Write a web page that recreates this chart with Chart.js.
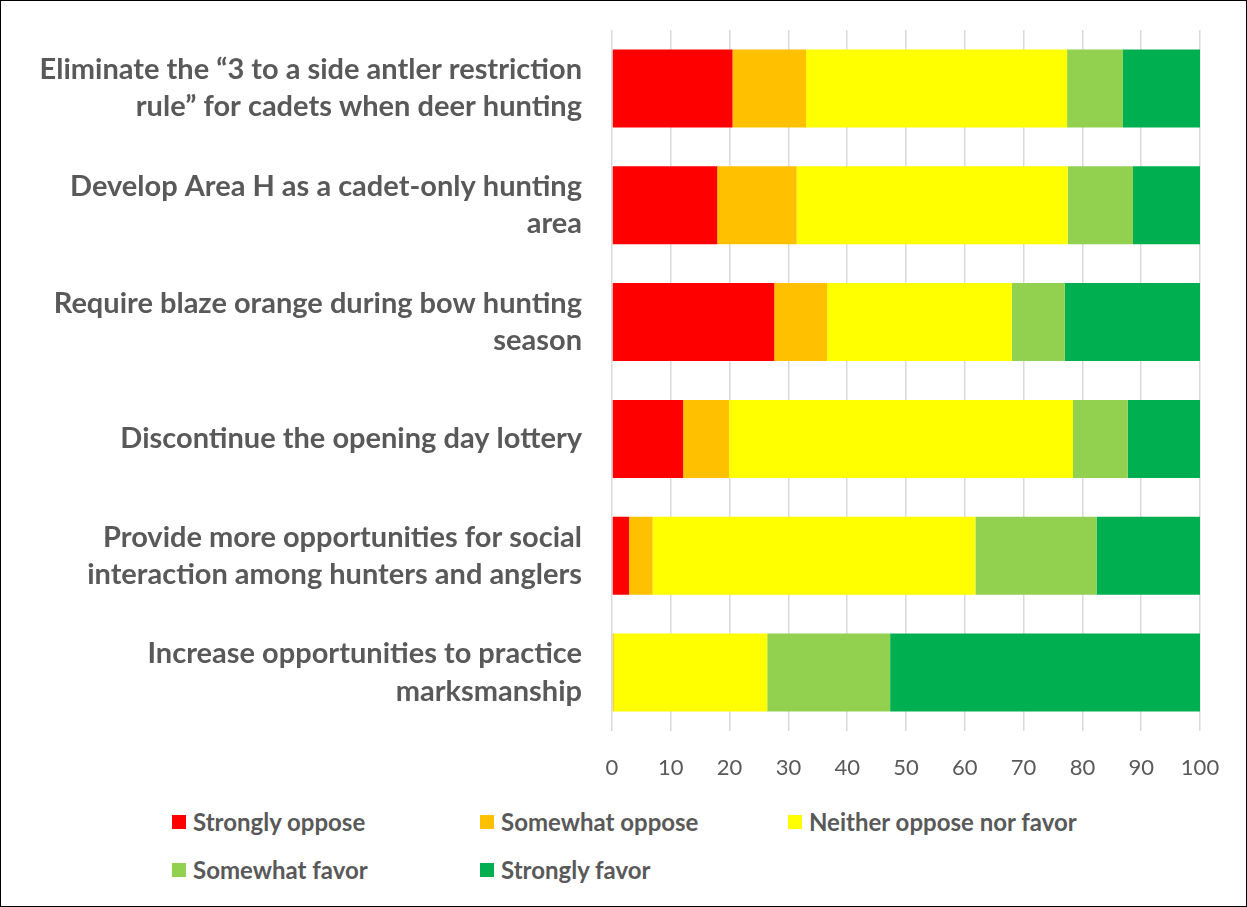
<!DOCTYPE html>
<html>
<head>
<meta charset="utf-8">
<script src="https://cdn.jsdelivr.net/npm/chart.js@4.4.0/dist/chart.umd.min.js"></script>
<style>
    html, body { margin: 0; padding: 0; background: #fff; }
    .frame {
        position: relative;
        width: 1245px;
        height: 905px;
        border: 1px solid #000;
        overflow: hidden;
    }
    .chart-box { position: absolute; left: 0; top: 0; width: 1245px; height: 800px; }
    .legend {
        position: absolute;
        left: 171px;
        top: 807px;
        display: grid;
        grid-template-columns: 308px 308px 308px;
        row-gap: 21px;
        font-family: Lato, "Liberation Sans", sans-serif;
        font-weight: bold;
        font-size: 24px;
        color: #595959;
    }
    .legend span.item { display: flex; align-items: center; height: 27px; }
    .legend i { display: inline-block; width: 14px; height: 14px; margin-right: 7px; }
</style>
</head>
<body>
<div class="frame">
    <div class="chart-box"><canvas id="chart"></canvas></div>
    <div class="legend" id="legend"></div>
</div>
<script>
const categorias = [
    ["Eliminate the \u201c3 to a side antler restriction", "rule\u201d for cadets when deer hunting"],
    ["Develop Area H as a cadet-only hunting", "area"],
    ["Require blaze orange during bow hunting", "season"],
    "Discontinue the opening day lottery",
    ["Provide more opportunities for social", "interaction among hunters and anglers"],
    ["Increase opportunities to practice", "marksmanship"]
];

const nomesSeries = ["Strongly oppose", "Somewhat oppose", "Neither oppose nor favor", "Somewhat favor", "Strongly favor"];
const coresSeries = ["#FF0000", "#FFC000", "#FFFF00", "#92D050", "#00B050"];

const stronglyOppose = [20.5, 17.9, 27.6, 12.1, 2.9, 0.0];
const somewhatOppose = [12.5, 13.5, 9.0, 7.8, 4.0, 0.3];
const neither        = [44.4, 46.1, 31.4, 58.5, 54.9, 26.1];
const somewhatFavor  = [9.5, 11.1, 9.0, 9.3, 20.6, 20.9];
const stronglyFavor  = [13.1, 11.4, 23.0, 12.3, 17.6, 52.7];

const valoresSeries = [stronglyOppose, somewhatOppose, neither, somewhatFavor, stronglyFavor];
const ticksX = [0, 10, 20, 30, 40, 50, 60, 70, 80, 90, 100];

const fonte = 'Lato, "Liberation Sans", sans-serif';

new Chart(document.getElementById("chart"), {
    type: 'bar',
    data: {
        labels: categorias,
        datasets: nomesSeries.map((nome, i) => ({
            label: nome,
            data: valoresSeries[i],
            backgroundColor: coresSeries[i],
            borderWidth: 0,
            categoryPercentage: 1,
            barPercentage: 0.667
        }))
    },
    options: {
        indexAxis: 'y',
        responsive: true,
        maintainAspectRatio: false,
        animation: false,
        layout: { padding: { top: 29, right: 46, left: 0, bottom: 0 } },
        plugins: { legend: { display: false }, tooltip: { enabled: false } },
        scales: {
            x: {
                stacked: true,
                min: 0,
                max: 100,
                afterBuildTicks: (s) => { s.ticks = ticksX.map(v => ({ value: v })); },
                afterFit: (s) => { s.height = 70; s.paddingLeft = 0; s.paddingRight = 0; },
                grid: { color: '#d9d9d9', lineWidth: 1.5, drawTicks: false },
                border: { display: false },
                ticks: { color: '#595959', padding: 24, font: { family: fonte, size: 22 } }
            },
            y: {
                stacked: true,
                afterFit: (s) => { s.width = 611; s.paddingTop = 0; s.paddingBottom = 0; },
                grid: { display: false, drawTicks: false },
                border: { display: false },
                ticks: {
                    color: '#595959',
                    padding: 30,
                    font: { family: fonte, size: 29, weight: 'bold', lineHeight: 1.28 }
                }
            }
        }
    }
});

// legenda em HTML, igual ao layout em colunas do original
const legenda = document.getElementById("legend");
legenda.innerHTML = nomesSeries.map((nome, i) =>
    `<span class="item"><i style="background:${coresSeries[i]}"></i>${nome}</span>`
).join("");
</script>
</body>
</html>
